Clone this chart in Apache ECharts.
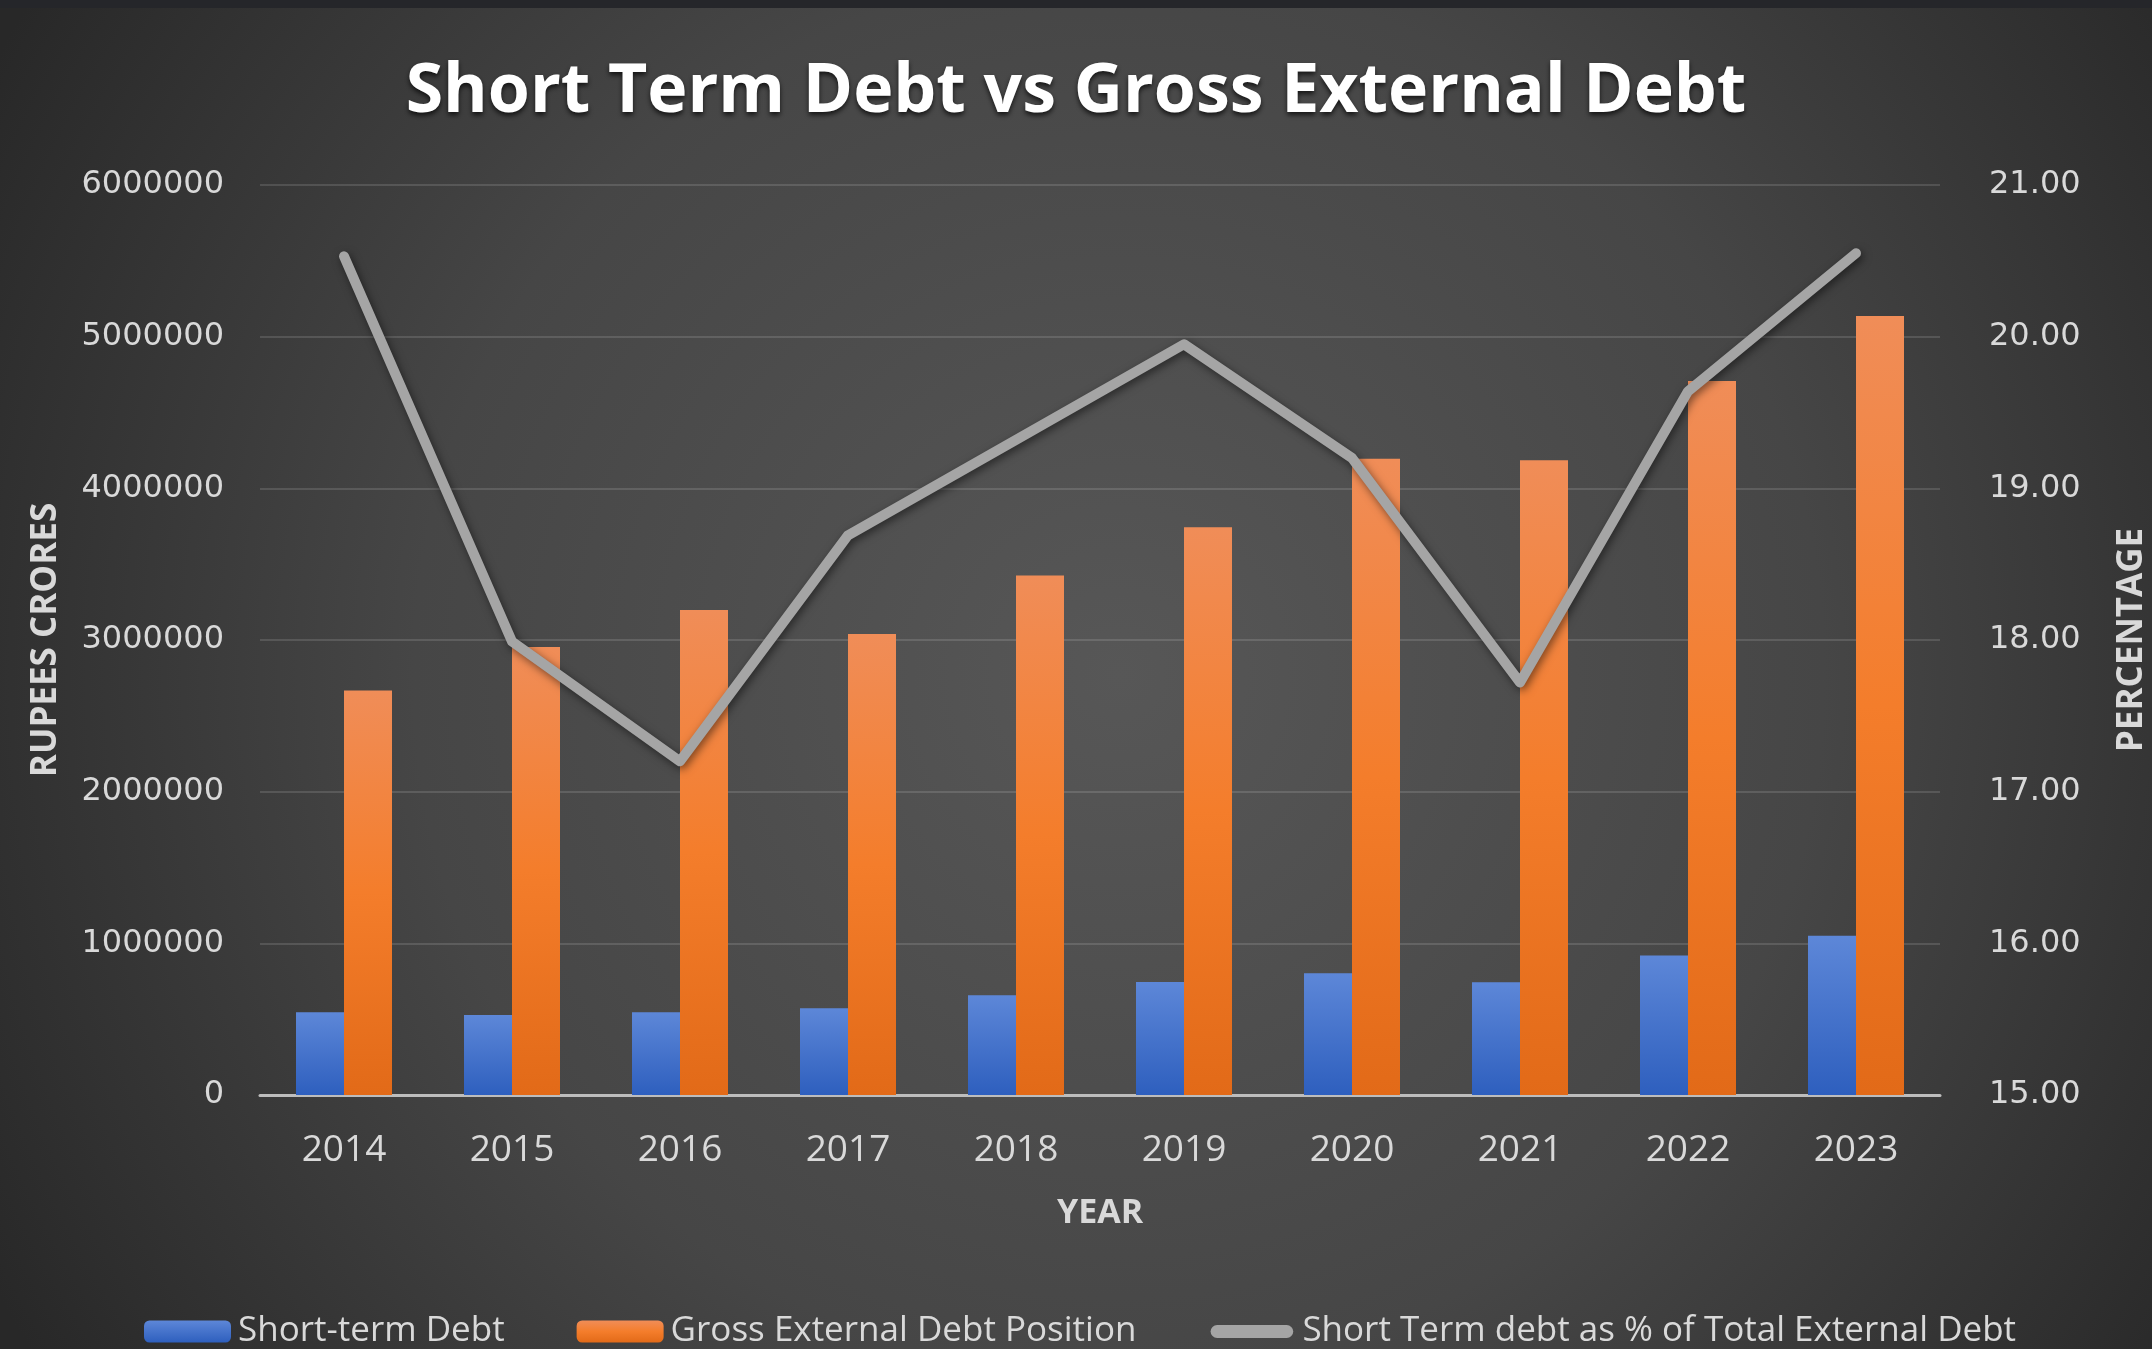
<!DOCTYPE html>
<html>
<head>
<meta charset="utf-8">
<title>Short Term Debt vs Gross External Debt</title>
<script src="https://cdn.jsdelivr.net/npm/echarts@6/dist/echarts.min.js"></script>
<style>
  html, body { margin: 0; padding: 0; background: #2a2a2a; }
  #chart { width: 2152px; height: 1349px; }
</style>
</head>
<body>
<div id="chart"></div>
<script>
// Years on the category axis
const years = ['2014', '2015', '2016', '2017', '2018', '2019', '2020', '2021', '2022', '2023'];
// Rupees crores
const shortTermDebt = [545000, 528000, 545000, 572000, 658000, 745000, 803000, 743000, 920000, 1050000];
const grossExternalDebt = [2667000, 2954000, 3198000, 3039000, 3426000, 3744000, 4195000, 4185000, 4707000, 5137000];
// Short term debt as a percentage of total external debt
const shortTermShare = [20.53, 17.99, 17.20, 18.69, 19.32, 19.95, 19.20, 17.72, 19.64, 20.55];

const seriesNames = ['Short-term Debt', 'Gross External Debt Position', 'Short Term debt as % of Total External Debt'];

const labelColor = '#d9d9d9';
const chart = echarts.init(document.getElementById('chart'), null, { renderer: 'canvas' });

const grad = (stops) => new echarts.graphic.LinearGradient(0, 0, 0, 1, stops);

chart.setOption({
  backgroundColor: {
    type: 'radial', x: 0.52, y: 0.5, r: 0.95,
    colorStops: [
      { offset: 0, color: '#575757' },
      { offset: 0.55, color: '#464646' },
      { offset: 1, color: '#282828' }
    ]
  },
  graphic: [
    { type: 'rect', left: 0, top: 0, shape: { width: 2152, height: 8 }, style: { fill: '#25262a' } }
  ],
  title: {
    text: 'Short Term Debt vs Gross External Debt',
    left: 'center',
    top: 54,
    textStyle: {
      fontFamily: 'Open Sans',
      fontWeight: 'bold',
      fontSize: 68,
      color: '#ffffff',
      textShadowColor: 'rgba(0,0,0,0.7)',
      textShadowBlur: 5,
      textShadowOffsetY: 3
    }
  },
  legend: {
    left: 144,
    top: 1314,
    padding: 0,
    itemWidth: 87,
    itemHeight: 22,
    itemGap: 72,
    textStyle: { fontFamily: 'Open Sans', fontSize: 35, color: labelColor, padding: [0, 0, 0, 2] },
    data: [
      { name: seriesNames[0] },
      { name: seriesNames[1] },
      { name: seriesNames[2], icon: 'path://M0,0 M100,20 M10,2.5 L90,2.5 A7.5,7.5 0 0 1 90,17.5 L10,17.5 A7.5,7.5 0 0 1 10,2.5 Z' }
    ]
  },
  grid: { left: 260, right: 212, top: 185, bottom: 254, outerBoundsMode: 'none' },
  xAxis: {
    type: 'category',
    data: years,
    name: 'YEAR',
    nameLocation: 'middle',
    nameGap: 101,
    nameTextStyle: { fontFamily: 'Open Sans', fontWeight: 'bold', fontSize: 34, color: labelColor },
    axisTick: { show: false },
    axisLine: { lineStyle: { color: '#bdbdbd', width: 3 } },
    axisLabel: { fontFamily: 'Open Sans', fontSize: 37, color: labelColor, margin: 37 }
  },
  yAxis: [
    {
      type: 'value',
      min: 0, max: 6000000, interval: 1000000,
      name: 'RUPEES CRORES',
      nameLocation: 'middle',
      nameRotate: 90,
      nameGap: 196,
      nameTextStyle: { fontFamily: 'Open Sans', fontWeight: 'bold', fontSize: 35, color: labelColor },
      axisLine: { show: false },
      axisTick: { show: false },
      axisLabel: {
        fontFamily: 'DejaVu Sans', fontSize: 32, color: labelColor, margin: 36,
        formatter: (v) => String(v)
      },
      splitLine: { lineStyle: { color: 'rgba(255,255,255,0.13)', width: 2 } }
    },
    {
      type: 'value',
      min: 15, max: 21, interval: 1,
      name: 'PERCENTAGE',
      nameLocation: 'middle',
      nameRotate: 90,
      nameGap: 175,
      nameTextStyle: { fontFamily: 'Open Sans', fontWeight: 'bold', fontSize: 35, color: labelColor },
      axisLine: { show: false },
      axisTick: { show: false },
      splitLine: { show: false },
      axisLabel: {
        fontFamily: 'DejaVu Sans', fontSize: 32, color: labelColor, margin: 49,
        formatter: (v) => v.toFixed(2)
      }
    }
  ],
  series: [
    {
      name: seriesNames[0],
      type: 'bar',
      data: shortTermDebt,
      barWidth: 48,
      barGap: '0%',
      itemStyle: {
        color: grad([{ offset: 0, color: '#5d87d8' }, { offset: 1, color: '#2e5fbe' }]),
        shadowColor: 'rgba(0,0,0,0.45)', shadowBlur: 10, shadowOffsetX: 3, shadowOffsetY: 2
      }
    },
    {
      name: seriesNames[1],
      type: 'bar',
      data: grossExternalDebt,
      barWidth: 48,
      barGap: '0%',
      itemStyle: {
        color: grad([{ offset: 0, color: '#f08d58' }, { offset: 0.5, color: '#f47d2b' }, { offset: 1, color: '#e26a18' }]),
        shadowColor: 'rgba(0,0,0,0.45)', shadowBlur: 10, shadowOffsetX: 3, shadowOffsetY: 2
      }
    },
    {
      name: seriesNames[2],
      type: 'line',
      yAxisIndex: 1,
      data: shortTermShare,
      symbol: 'none',
      itemStyle: { color: '#a5a5a5' },
      lineStyle: {
        color: '#a5a5a5', width: 10, cap: 'round', join: 'round',
        shadowColor: 'rgba(0,0,0,0.5)', shadowBlur: 8, shadowOffsetX: 2, shadowOffsetY: 3
      },
      z: 5
    }
  ]
});
</script>
</body>
</html>
